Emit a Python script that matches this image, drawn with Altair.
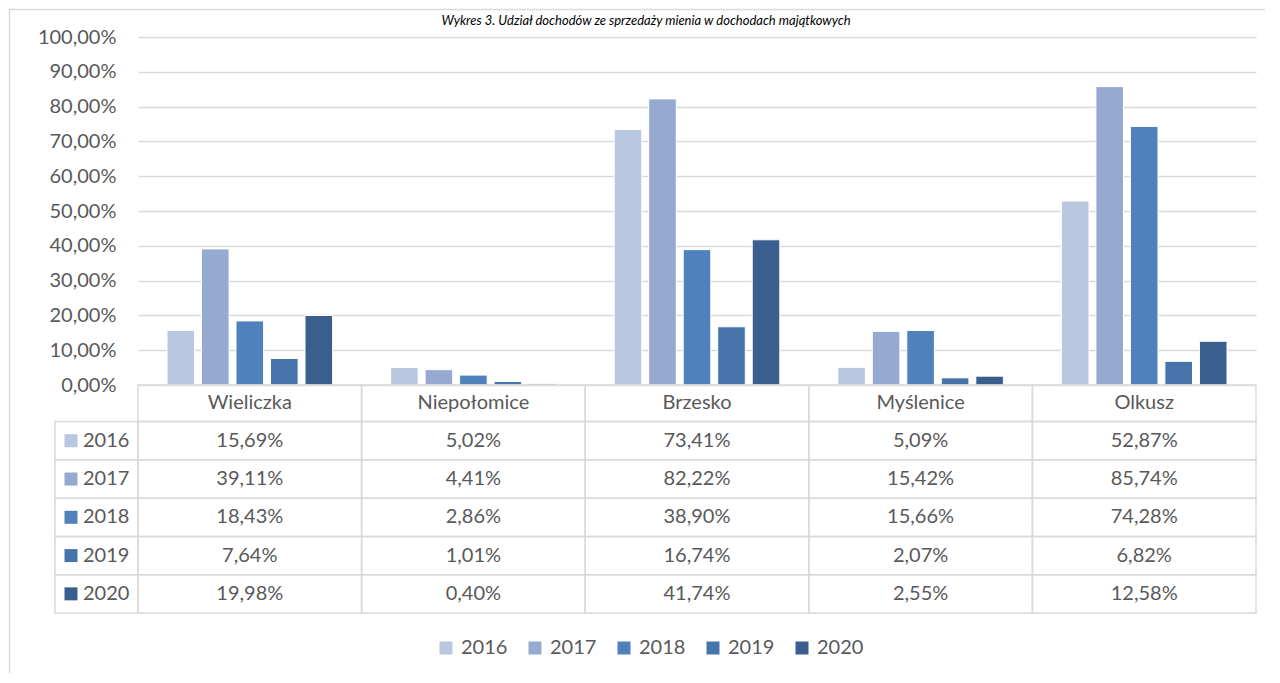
import altair as alt
import pandas as pd

# ---------------- data ----------------
categories = ["Wieliczka", "Niepołomice", "Brzesko", "Myślenice", "Olkusz"]
years = ["2016", "2017", "2018", "2019", "2020"]
v2016 = [15.69, 5.02, 73.41, 5.09, 52.87]
v2017 = [39.11, 4.41, 82.22, 15.42, 85.74]
v2018 = [18.43, 2.86, 38.90, 15.66, 74.28]
v2019 = [7.64, 1.01, 16.74, 2.07, 6.82]
v2020 = [19.98, 0.40, 41.74, 2.55, 12.58]
y_ticks = [0, 10, 20, 30, 40, 50, 60, 70, 80, 90, 100]
title_text = "Wykres 3. Udział dochodów ze sprzedaży mienia w dochodach majątkowych"

# ---------------- styles ----------------
colors = ["#b9c7e1", "#95a9d1", "#4f81bd", "#4674aa", "#3a5f8e"]
FONT = "Lato"
TXT = "#595959"
LINE = "#d9d9d9"
FS = 20

W = 1118
HEADER_H = 10.5   # table header row height (y units)
ROW_H = 11.0      # table body row height (y units)
YMIN = -(HEADER_H + ROW_H * len(years))
PX_PER_UNIT = 3.48
H = round((100 - YMIN) * PX_PER_UNIT)

series = [v2016, v2017, v2018, v2019, v2020]
rows = []
for i, (yr, vals) in enumerate(zip(years, series)):
    top = -HEADER_H - ROW_H * i
    for c, v in zip(categories, vals):
        rows.append({"category": c, "year": yr, "value": v,
                     "top": top, "bot": top - ROW_H, "mid": top - ROW_H / 2})
df = pd.DataFrame(rows)
years_df = df.drop_duplicates("year")[["year", "top", "bot", "mid"]]
cat_df = pd.DataFrame({"category": categories, "top": 0.0, "bot": -HEADER_H,
                       "mid": -HEADER_H / 2})
one = pd.DataFrame({"a": [0]})

x_enc = alt.X("category:N", sort=categories, axis=None,
              scale=alt.Scale(domain=categories, paddingInner=0, paddingOuter=0))
y_scale = alt.Scale(domain=[YMIN, 100], nice=False, zero=False)
color_enc = alt.Color(
    "year:N", sort=years,
    scale=alt.Scale(domain=years, range=colors),
    legend=alt.Legend(orient="none", direction="horizontal", columns=5,
                      legendX=298, legendY=601, title=None, padding=0,
                      symbolType="square", symbolSize=169, symbolStrokeWidth=0,
                      labelFont=FONT, labelFontSize=FS, labelColor=TXT,
                      labelOffset=5, columnPadding=17),
)

# frame lines (top and left)
frame_top = alt.Chart(one).mark_rule(color=LINE, strokeWidth=1.5).encode(
    x=alt.value(-129), x2=alt.value(1127), y=alt.value(-27.5))
frame_left = alt.Chart(one).mark_rule(color=LINE, strokeWidth=1.5).encode(
    x=alt.value(-128.5), y=alt.value(-28), y2=alt.value(636))

title = alt.Chart(pd.DataFrame({"t": [title_text]})).mark_text(
    font=FONT, fontSize=13, fontStyle="italic", color="#000000",
    align="center", baseline="middle").encode(
    x=alt.value(508), y=alt.value(-16), text="t:N")

bars = alt.Chart(df).mark_bar(stroke="white", strokeWidth=1).encode(
    x=x_enc,
    xOffset=alt.XOffset("year:N", sort=years,
                        scale=alt.Scale(domain=years, paddingInner=0.2, paddingOuter=0.84)),
    y=alt.Y("value:Q", scale=y_scale, title=None,
            axis=alt.Axis(values=y_ticks, grid=True, gridColor=LINE, gridWidth=1.5,
                          domain=False, ticks=False, labelPadding=22,
                          labelFont=FONT, labelFontSize=FS, labelColor=TXT,
                          labelExpr="replace(format(datum.value, '.2f'), '.', ',') + '%'")),
    y2=alt.datum(0),
    color=color_enc,
)

header_cells = alt.Chart(cat_df).mark_rect(fillOpacity=0, stroke=LINE, strokeWidth=1.5).encode(
    x=x_enc, y=alt.Y("top:Q", scale=y_scale), y2="bot:Q")
header_text = alt.Chart(cat_df).mark_text(
    font=FONT, fontSize=FS, color=TXT, baseline="middle").encode(
    x=x_enc, y=alt.Y("mid:Q", scale=y_scale), text="category:N")

body_cells = alt.Chart(df).mark_rect(fillOpacity=0, stroke=LINE, strokeWidth=1.5).encode(
    x=x_enc, y=alt.Y("top:Q", scale=y_scale), y2="bot:Q")
body_text = alt.Chart(df).transform_calculate(
    label="replace(format(datum.value, '.2f'), '.', ',') + '%'"
).mark_text(font=FONT, fontSize=FS, color=TXT, baseline="middle").encode(
    x=x_enc, y=alt.Y("mid:Q", scale=y_scale), text="label:N")

left_cells = alt.Chart(years_df).mark_rect(fillOpacity=0, stroke=LINE, strokeWidth=1.5).encode(
    x=alt.value(-83), x2=alt.value(0), y=alt.Y("top:Q", scale=y_scale), y2="bot:Q")
left_squares = alt.Chart(years_df).mark_square(size=169, opacity=1).encode(
    x=alt.value(-67), y=alt.Y("mid:Q", scale=y_scale), color=color_enc)
left_text = alt.Chart(years_df).mark_text(
    font=FONT, fontSize=FS, color=TXT, align="left", baseline="middle").encode(
    x=alt.value(-55), y=alt.Y("mid:Q", scale=y_scale), text="year:N")

chart = alt.layer(
    frame_top, frame_left, title, bars,
    header_cells, header_text, body_cells, body_text,
    left_cells, left_squares, left_text,
).properties(width=W, height=H, padding=0).configure_view(stroke=None)

chart.save("out.html", embed_options={"renderer": "svg", "actions": False})
